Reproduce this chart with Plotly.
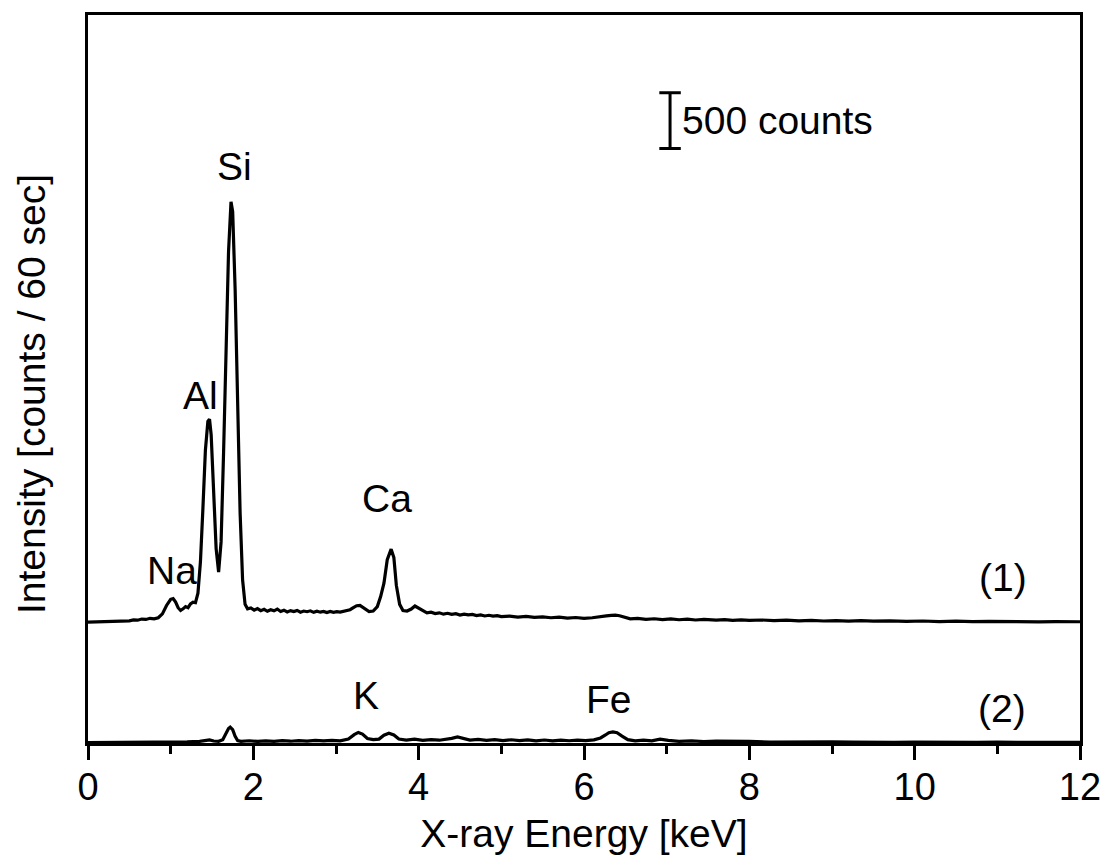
import plotly.graph_objects as go

# ---------------- data ----------------
energy_1 = [0.00, 0.10, 0.20, 0.30, 0.40, 0.50, 0.55, 0.60, 0.65, 0.70, 0.75, 0.80, 0.85,
            0.90, 0.95, 1.00, 1.03, 1.06, 1.09, 1.12, 1.15, 1.18, 1.21, 1.24, 1.27, 1.30,
            1.33, 1.36, 1.39, 1.42, 1.45, 1.47, 1.49, 1.52, 1.55, 1.58, 1.61, 1.64, 1.67,
            1.70, 1.73, 1.75, 1.78, 1.81, 1.84, 1.87, 1.90,
            1.93, 1.97, 2.01, 2.05, 2.09, 2.13, 2.17, 2.21, 2.25, 2.29, 2.33, 2.37, 2.41,
            2.45, 2.49, 2.53, 2.57, 2.61, 2.65, 2.69, 2.73, 2.77, 2.81, 2.85, 2.89, 2.93,
            2.97, 3.01, 3.05, 3.09, 3.13, 3.17, 3.21, 3.25, 3.29, 3.33,
            3.40, 3.45, 3.50, 3.54, 3.58, 3.62, 3.667, 3.70, 3.73, 3.77, 3.81, 3.86,
            3.91, 3.955, 4.00,
            4.05, 4.10, 4.15, 4.20, 4.25, 4.30, 4.35, 4.40, 4.45, 4.50, 4.55, 4.60, 4.65,
            4.70, 4.75, 4.80, 4.85, 4.90, 4.95, 5.00, 5.10, 5.20, 5.30, 5.40, 5.50, 5.60,
            5.70, 5.80, 5.90, 6.00, 6.10, 6.20, 6.27, 6.33, 6.38, 6.43, 6.50, 6.56, 6.65,
            6.75, 6.85, 6.95, 7.05, 7.15, 7.25, 7.35, 7.45, 7.60, 7.70, 7.80, 7.90, 8.00,
            8.15, 8.30, 8.45, 8.60, 8.75, 8.90, 9.05, 9.20, 9.35, 9.50, 9.70, 9.90, 10.10,
            10.30, 10.50, 10.70, 10.90, 11.10, 11.30, 11.50, 11.70, 11.85, 12.00]
counts_1 = [0, 2, 0, 3, 8, 12, 20, 18, 28, 25, 35, 30, 40,
            75, 150, 205, 212, 180, 130, 105, 120, 140, 130, 165, 180, 175,
            260, 540, 1020, 1540, 1800, 1820, 1680, 1120, 660, 450, 720, 1520, 2380,
            3320, 3770, 3680, 2980, 1950, 980, 380, 160,
            120, 128, 108, 122, 104, 116, 98, 112, 102, 118, 96, 108, 92,
            104, 95, 106, 90, 100, 94, 102, 88, 98, 90, 97, 86, 96,
            88, 94, 90, 98, 104, 112, 130, 148, 150, 132,
            95, 100, 140, 230, 350, 560, 655, 580, 330, 160, 105, 100,
            118, 145, 125,
            100, 84, 90, 78, 84, 72, 80, 70, 76, 64, 72, 66, 70,
            60, 66, 56, 62, 54, 58, 50, 55, 46, 52, 43, 48, 40,
            45, 37, 42, 35, 40, 46, 56, 62, 64, 58, 42, 30, 34,
            26, 31, 24, 29, 22, 27, 20, 25, 19, 23, 17, 21, 16,
            20, 14, 18, 12, 16, 11, 15, 10, 14, 9, 12, 7, 11,
            6, 10, 5, 8, 4, 7, 3, 6, 3, 4]

energy_2 = [0.0, 0.3, 0.6, 0.9, 1.2, 1.35, 1.42, 1.47, 1.52, 1.58, 1.63, 1.67, 1.70, 1.72,
            1.75, 1.78, 1.81, 1.85, 1.95, 2.05, 2.15, 2.25, 2.35, 2.45, 2.55, 2.65, 2.75,
            2.85, 2.95, 3.05, 3.15, 3.22, 3.27,
            3.32, 3.38, 3.45, 3.52, 3.58, 3.64, 3.70, 3.76, 3.85, 3.95, 4.05, 4.15, 4.25,
            4.33, 4.40, 4.47, 4.54, 4.62, 4.72, 4.82, 4.92, 5.02, 5.12, 5.22, 5.32, 5.42,
            5.52, 5.62, 5.72, 5.82, 5.92, 6.02, 6.12, 6.20, 6.26, 6.30, 6.35,
            6.40, 6.46, 6.53, 6.62, 6.72, 6.82, 6.92, 7.02, 7.15, 7.30, 7.45, 7.60, 7.80,
            8.0, 8.25, 8.5, 8.75, 9.0, 9.25, 9.5, 9.75, 10.0, 10.25, 10.5, 10.75, 11.0,
            11.25, 11.5, 11.75, 12.0]
counts_2 = [3, 3, 5, 8, 10, 15, 25, 28, 18, 15, 30, 90, 130, 142,
            120, 60, 22, 15, 20, 14, 19, 15, 21, 16, 22, 17, 23, 19,
            24, 20, 35, 75, 95,
            80, 40, 30, 35, 70, 88, 72, 35, 26, 34, 24, 31, 25,
            33, 42, 55, 38, 26, 32, 24, 31, 22, 29, 21, 28, 20,
            27, 19, 26, 20, 25, 21, 28, 45, 72, 92, 100,
            92, 62, 30, 20, 26, 20, 34, 24, 15, 19, 13, 17, 12,
            14, 9, 12, 8, 11, 7, 10, 6, 9, 6, 8, 5, 7,
            5, 6, 4, 5]

offset_1 = 1083          # vertical shift of spectrum (1), counts
scale_bar_counts = 500   # length of the scale bar, counts

x_ticks = [0, 2, 4, 6, 8, 10, 12]

# element labels: (text, energy, counts)
labels = [("Si", 1.77, 5170), ("Al", 1.366, 3116), ("Na", 1.011, 1545),
          ("Ca", 3.611, 2196), ("K", 3.358, 429), ("Fe", 6.307, 393),
          ("(1)", 11.07, 1482), ("(2)", 11.06, 312)]

# ---------------- figure ----------------
FONT = "Liberation Sans, Arial, sans-serif"
fig = go.Figure()
fig.add_trace(go.Scatter(x=energy_1, y=[c + offset_1 for c in counts_1], mode="lines",
                         line=dict(color="black", width=3.2), showlegend=False))
fig.add_trace(go.Scatter(x=energy_2, y=counts_2, mode="lines",
                         line=dict(color="black", width=3.2), showlegend=False))

for t, x, y in labels:
    fig.add_annotation(x=x, y=y, text=t, showarrow=False, xanchor="center", yanchor="middle",
                       font=dict(family=FONT, size=39, color="black"))

# scale bar
bx, by0 = 7.041, 5330
fig.add_shape(type="line", x0=bx, x1=bx, y0=by0, y1=by0 + scale_bar_counts,
              line=dict(color="black", width=3))
for yy in (by0, by0 + scale_bar_counts):
    fig.add_shape(type="line", x0=bx - 0.13, x1=bx + 0.13, y0=yy, y1=yy,
                  line=dict(color="black", width=3))
fig.add_annotation(x=7.16, y=by0 + scale_bar_counts / 2, text=f"{scale_bar_counts} counts",
                   showarrow=False, xanchor="left", yanchor="middle",
                   font=dict(family=FONT, size=39, color="black"))

# y title
fig.add_annotation(xref="paper", yref="paper", x=-0.057, y=0.48, text="Intensity [counts / 60 sec]",
                   textangle=-90, showarrow=False, xanchor="center", yanchor="middle",
                   font=dict(family=FONT, size=39, color="black"))

fig.update_layout(
    width=1113, height=868,
    margin=dict(l=88, r=28, t=12, b=125),
    paper_bgcolor="white", plot_bgcolor="white",
    font=dict(family=FONT, color="black"),
    xaxis=dict(range=[0, 12], tickvals=x_ticks, ticks="outside", ticklen=14, tickwidth=3,
               tickcolor="black", showline=True, linewidth=3, linecolor="black", mirror=True,
               showgrid=False, zeroline=False, tickfont=dict(size=38, family=FONT),
               ticklabelstandoff=-6,
               minor=dict(dtick=1, ticks="outside", ticklen=8, tickwidth=3, tickcolor="black",
                          showgrid=False),
               title=dict(text="X-ray Energy [keV]", font=dict(size=39, family=FONT), standoff=14)),
    yaxis=dict(range=[0, 6527], showticklabels=False, ticks="", showline=True, linewidth=3,
               linecolor="black", mirror=True, showgrid=False, zeroline=False),
)

fig.write_html("out.html")
